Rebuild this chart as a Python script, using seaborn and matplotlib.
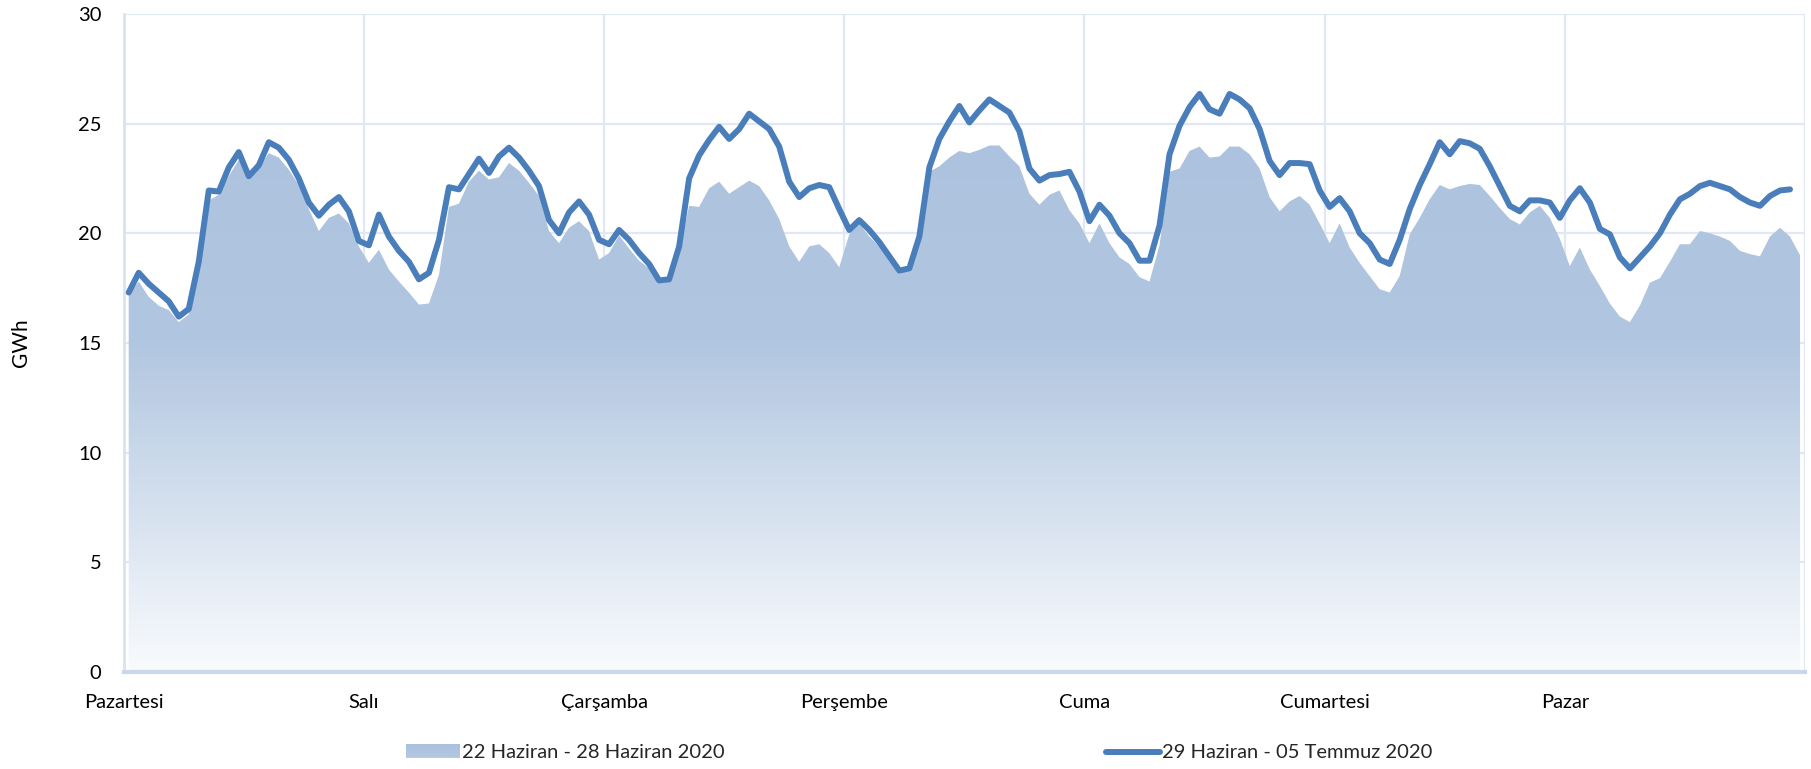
import numpy as np
import matplotlib
matplotlib.use("Agg")
import matplotlib.pyplot as plt
import seaborn as sns
from matplotlib.colors import LinearSegmentedColormap
from matplotlib.patches import Rectangle
from matplotlib.lines import Line2D
from matplotlib.legend_handler import HandlerBase

# gün etiketleri
days = ["Pazartesi", "Salı", "Çarşamba", "Perşembe", "Cuma", "Cumartesi", "Pazar"]
series_prev = "22 Haziran - 28 Haziran 2020"
series_curr = "29 Haziran - 05 Temmuz 2020"

# 22-28 Haziran saatlik tüketim (GWh), gün gün
prev_mon = [17.2, 17.8, 17.1, 16.7, 16.5, 15.95, 16.3, 18.7, 21.5, 21.75, 22.6, 23.35,
            22.45, 23.0, 23.65, 23.45, 22.9, 22.2, 21.1, 20.1, 20.7, 20.9, 20.45, 19.4]
prev_tue = [18.65, 19.25, 18.35, 17.8, 17.3, 16.75, 16.8, 18.1, 21.2, 21.35, 22.35, 22.85,
            22.45, 22.55, 23.2, 22.85, 22.3, 21.7, 20.1, 19.55, 20.25, 20.55, 20.1, 18.8]
prev_wed = [19.1, 19.9, 19.3, 18.75, 18.4, 17.95, 17.9, 19.2, 21.25, 21.2, 22.05, 22.35,
            21.8, 22.1, 22.4, 22.15, 21.5, 20.65, 19.4, 18.7, 19.4, 19.5, 19.1, 18.45]
prev_thu = [19.95, 20.45, 19.85, 19.4, 18.9, 18.3, 18.4, 19.5, 22.8, 23.05, 23.45, 23.75,
            23.65, 23.8, 24.0, 24.0, 23.5, 23.05, 21.8, 21.3, 21.75, 21.95, 21.05, 20.45]
prev_fri = [19.55, 20.45, 19.55, 18.9, 18.6, 18.0, 17.8, 19.45, 22.8, 22.95, 23.75, 23.95,
            23.45, 23.5, 23.95, 23.95, 23.6, 22.95, 21.65, 21.0, 21.45, 21.7, 21.3, 20.45]
prev_sat = [19.55, 20.45, 19.35, 18.65, 18.05, 17.45, 17.3, 18.05, 19.95, 20.7, 21.55, 22.2,
            22.0, 22.15, 22.25, 22.2, 21.7, 21.15, 20.65, 20.4, 20.95, 21.25, 20.7, 19.75]
prev_sun = [18.5, 19.35, 18.35, 17.6, 16.8, 16.2, 15.95, 16.7, 17.75, 17.95, 18.7, 19.5,
            19.5, 20.1, 20.0, 19.85, 19.65, 19.2, 19.05, 18.95, 19.85, 20.25, 19.85, 19.0]

# 29 Haziran - 05 Temmuz saatlik tüketim (GWh), son saat yok
curr_mon = [17.3, 18.2, 17.7, 17.3, 16.9, 16.2, 16.55, 18.7, 21.95, 21.9, 23.0, 23.7,
            22.6, 23.1, 24.15, 23.9, 23.35, 22.5, 21.4, 20.8, 21.3, 21.65, 21.0, 19.65]
curr_tue = [19.45, 20.85, 19.85, 19.2, 18.7, 17.9, 18.2, 19.7, 22.1, 22.0, 22.7, 23.4,
            22.75, 23.5, 23.9, 23.45, 22.85, 22.15, 20.6, 20.0, 20.95, 21.45, 20.85, 19.7]
curr_wed = [19.5, 20.15, 19.7, 19.1, 18.6, 17.85, 17.9, 19.4, 22.5, 23.55, 24.25, 24.85,
            24.3, 24.75, 25.45, 25.1, 24.75, 23.95, 22.35, 21.65, 22.05, 22.2, 22.1, 21.1]
curr_thu = [20.15, 20.6, 20.15, 19.6, 18.95, 18.3, 18.4, 19.85, 23.0, 24.3, 25.1, 25.8,
            25.05, 25.6, 26.1, 25.8, 25.5, 24.65, 22.95, 22.4, 22.65, 22.7, 22.8, 21.9]
curr_fri = [20.55, 21.3, 20.8, 20.0, 19.55, 18.75, 18.75, 20.35, 23.6, 24.9, 25.75, 26.35,
            25.65, 25.45, 26.35, 26.1, 25.7, 24.75, 23.3, 22.65, 23.2, 23.2, 23.15, 21.95]
curr_sat = [21.2, 21.6, 21.0, 20.0, 19.55, 18.8, 18.6, 19.7, 21.1, 22.2, 23.15, 24.15,
            23.6, 24.2, 24.1, 23.85, 23.05, 22.15, 21.25, 21.0, 21.5, 21.5, 21.4, 20.7]
curr_sun = [21.5, 22.05, 21.4, 20.2, 19.95, 18.9, 18.4, 18.9, 19.4, 20.0, 20.85, 21.55,
            21.8, 22.15, 22.3, 22.15, 22.0, 21.65, 21.4, 21.25, 21.7, 21.95, 22.0, np.nan]

prev = np.array(prev_mon + prev_tue + prev_wed + prev_thu + prev_fri + prev_sat + prev_sun)
curr = np.array(curr_mon + curr_tue + curr_wed + curr_thu + curr_fri + curr_sat + curr_sun)
x = np.arange(len(prev)) + 0.5  # kategori ortası

sns.set_theme(style="white")
plt.rcParams["font.family"] = ["Lato", "DejaVu Sans"]

line_color = "#4a7ebb"
grid_color = "#e1e8f3"
fs = 14.5
area_cmap = LinearSegmentedColormap.from_list(
    "area", [(0.0, "#f9fbfd"), (0.5, "#b1c6e0"), (1.0, "#aac0dd")])

fig = plt.figure(figsize=(18.11, 7.69), dpi=100)
ax = fig.add_axes([0.0683, 0.126, 0.9284, 0.856])

# alan: gradyan dolgu
poly = ax.fill_between(x, prev, 0, facecolor="none", edgecolor="none")
grad = np.linspace(0, 1, 256).reshape(-1, 1)
im = ax.imshow(grad, cmap=area_cmap, origin="lower", extent=[0, 168, 0, 30],
               aspect="auto", zorder=1)
im.set_clip_path(poly.get_paths()[0], transform=ax.transData)

# çizgi
sns.lineplot(x=x, y=curr, ax=ax, color=line_color, linewidth=4.3, zorder=3)

ax.set_xlim(0, 168)
ax.set_ylim(0, 30)
ax.set_yticks(range(0, 31, 5))
ax.set_xticks(range(0, 169, 24))
ax.set_xticklabels(days + [""])
ax.grid(True, color=grid_color, linewidth=1.6, zorder=0)
ax.set_axisbelow(True)
for side in ["top", "right"]:
    ax.spines[side].set_visible(False)
ax.spines["left"].set_color("#d9e3f0")
ax.spines["left"].set_linewidth(2)
ax.spines["bottom"].set_color("#c9d7eb")
ax.spines["bottom"].set_linewidth(3)
ax.tick_params(axis="both", colors="#cfdbec", length=6, width=1.5, labelsize=fs,
               labelcolor="black")
ax.tick_params(axis="y", pad=10)
ax.tick_params(axis="x", pad=10)
ax.set_ylabel("GWh", fontsize=fs + 0.5, color="black")
ax.yaxis.set_label_coords(-0.055, 0.5)


class GradientHandler(HandlerBase):
    def create_artists(self, legend, orig_handle, xdescent, ydescent, width, height,
                       fontsize, trans):
        n = 12
        arts = []
        for k in range(n):
            r = Rectangle((-xdescent, -ydescent + height * k / n), width, height / n + 0.3,
                          facecolor=area_cmap(0.55 * k / (n - 1) + 0.45),
                          edgecolor="none", transform=trans)
            arts.append(r)
        return arts


area_handle = Rectangle((0, 0), 1, 1)
line_handle = Line2D([0], [0], color=line_color, linewidth=4.3)
fig.legend([area_handle, line_handle], [series_prev, series_curr],
           handler_map={Rectangle: GradientHandler()},
           loc="center", bbox_to_anchor=(0.5076, 0.021), ncol=2, frameon=False,
           fontsize=fs, handlelength=2.7, handleheight=0.6, handletextpad=0.12,
           columnspacing=18.9)

fig.savefig("out.png", dpi=100)
